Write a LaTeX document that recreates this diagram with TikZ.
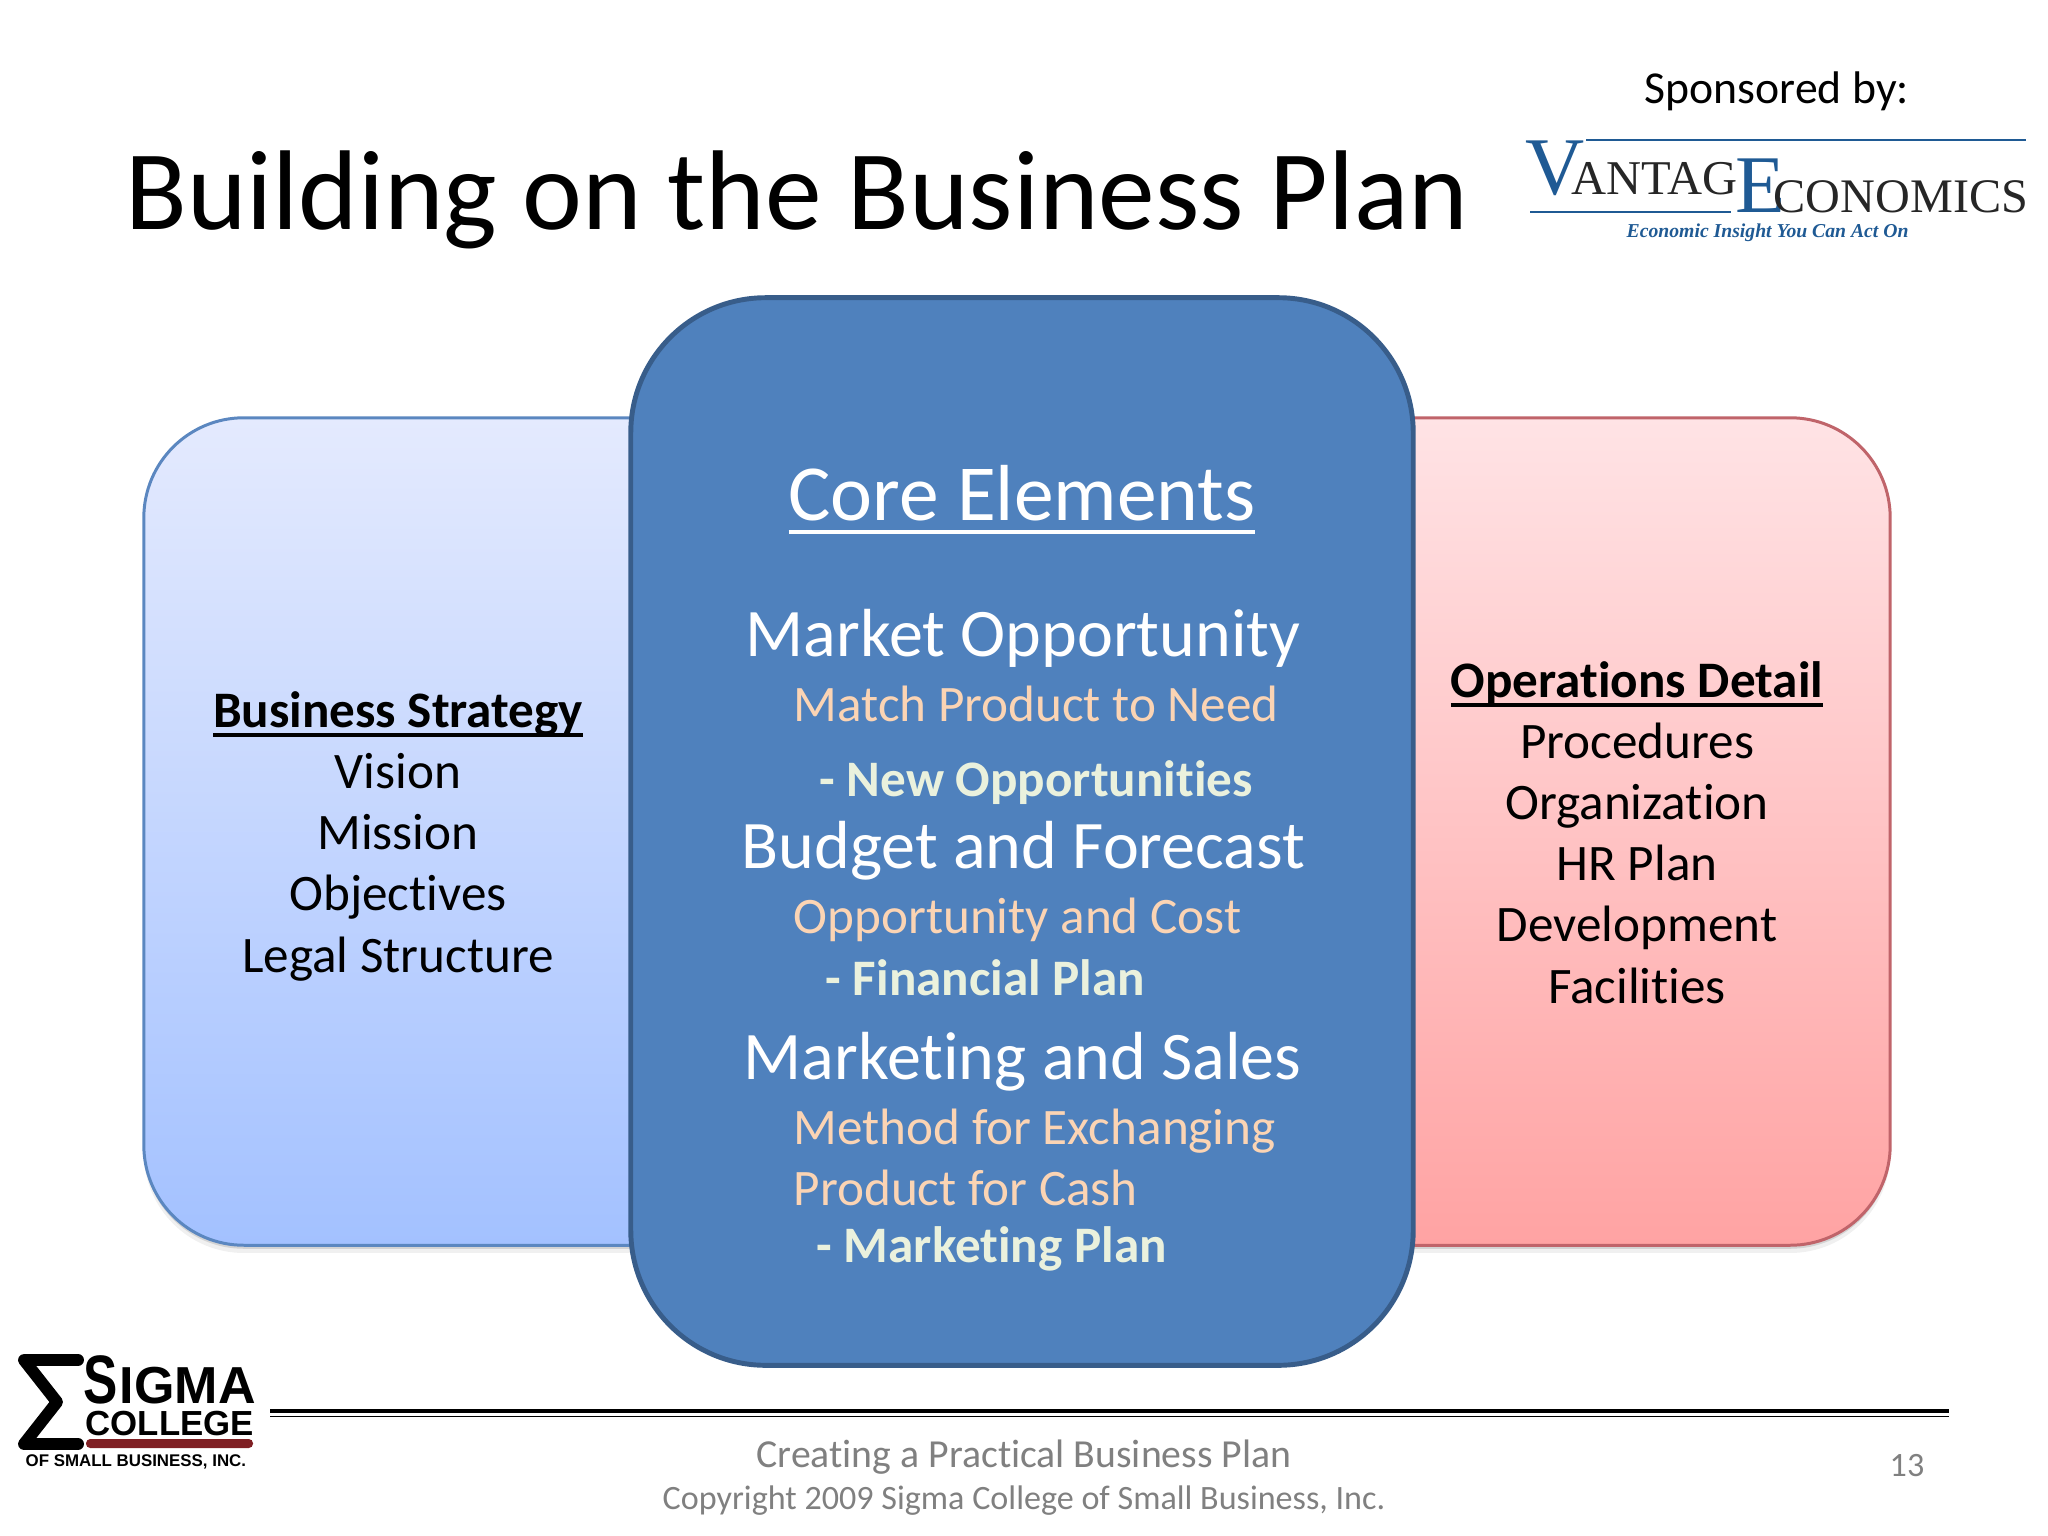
\documentclass[tikz,border=0pt]{standalone}
\usepackage{fontspec}
\usepackage{xcolor}
\setmainfont{Carlito}[Ligatures=NoCommon]
\newfontfamily\logosans{Liberation Sans}
\newfontfamily\logoserif{Liberation Serif}
\usetikzlibrary{shadows}
\definecolor{coreblue}{HTML}{4F81BD}
\definecolor{coreedge}{HTML}{385D8A}
\definecolor{peach}{HTML}{FBD4B4}
\definecolor{palegreen}{HTML}{EAF1DD}
\definecolor{vantageblue}{HTML}{1F5A94}
\definecolor{sigmared}{HTML}{7F1F23}
\definecolor{stratop}{HTML}{E4EAFE}
\definecolor{stratbot}{HTML}{A3C1FF}
\definecolor{stratedge}{HTML}{5B87C0}
\definecolor{opstop}{HTML}{FFE3E5}
\definecolor{opsbot}{HTML}{FFA3A3}
\definecolor{opsedge}{HTML}{C0646A}
\newcommand{\fs}[1]{\fontsize{#1}{#1}\selectfont}
\newcommand{\headrule}[3]{\setbox0\hbox{#3}\rlap{\rule[#1]{\wd0}{#2}}\box0}

\begin{document}
\begin{tikzpicture}[x=0.01cm, y=-0.01cm,
        sidebox/.style={rectangle, rounded corners=1.0cm, inner sep=0pt, line width=0.85pt,
            drop shadow={shadow xshift=0pt, shadow yshift=-2.2pt, opacity=0.12},
            drop shadow={shadow xshift=0pt, shadow yshift=-1pt, opacity=0.25}},
        sidetext/.style={align=center, inner sep=0pt, anchor=base, font=\fontsize{14.55}{17.36}\selectfont},
        head/.style={anchor=base west, inner sep=0pt, text=white, font=\fs{19.35}},
        sub/.style={anchor=base west, inner sep=0pt, text=peach, font=\fs{14.55}},
        plan/.style={anchor=base west, inner sep=0pt, text=palegreen, font=\fs{14.55}\bfseries},
        foot/.style={anchor=base, inner sep=0pt, text=black!50}]
        \useasboundingbox (0,0) rectangle (2048,1536);

        % Title
        \node [anchor=base west, inner sep=0pt, font=\fs{32.25}] (title) at (125,229) {Building on the Business Plan};
        \node [anchor=base west, inner sep=0pt, font=\fs{13}] (sponsor) at (1644,103) {Sponsored by:};

        % Sponsor logo
        \draw [vantageblue, line width=0.8pt] (1586,140) -- (2026,140);
        \draw [vantageblue, line width=0.8pt] (1530,212) -- (1731,212);
        \node [anchor=base west, inner sep=0pt, text=vantageblue, font=\logoserif\fs{23.3}] (logov) at (1525,194) {V};
        \node [anchor=base west, inner sep=0pt, text=black!85, font=\logoserif\fs{13.8}] (logoa) at (1571,194) {ANTAG};
        \node [anchor=base west, inner sep=0pt, text=vantageblue, font=\logoserif\fs{23.3}] (logoe) at (1735,212) {E};
        \node [anchor=base west, inner sep=0pt, text=black!85, font=\logoserif\fs{13.7}] (logoc) at (1773,212) {CONOMICS};
        \node [anchor=base west, inner sep=0pt, text=vantageblue, font=\logoserif\itshape\bfseries\fs{5.6}] (logot) at (1626,237) {Economic Insight You Can Act On};

        % Side boxes
        \node [sidebox, draw=stratedge, top color=stratop, bottom color=stratbot,
            minimum width=6.56cm, minimum height=8.27cm] (strategy) at (472,831.5) {};
        \node [sidebox, draw=opsedge, top color=opstop, bottom color=opsbot,
            minimum width=6.90cm, minimum height=8.27cm] (operations) at (1545,831.5) {};
        \node [sidetext] (strategytext) at (398,972) {\headrule{-2.7pt}{1.2pt}{\textbf{Business Strategy}}\\Vision\\Mission\\Objectives\\Legal Structure};
        \node [sidetext] (operationstext) at (1637,1003) {\headrule{-2.7pt}{1.2pt}{\textbf{Operations Detail}}\\Procedures\\Organization\\HR Plan\\Development\\Facilities};

        % Center box
        \node [rectangle, rounded corners=1.35cm, draw=coreedge, fill=coreblue, line width=1.4pt, inner sep=0pt,
            minimum width=7.82cm, minimum height=10.67cm] (core) at (1022,831.5) {};
        \node [anchor=base, inner sep=0pt, text=white, font=\fs{22.6}] (coretitle) at (1022,520) {\headrule{-4pt}{1.3pt}{Core Elements}};

        \node [head] (market) at (745,656) {Market Opportunity};
        \node [sub] (match) at (793,721) {Match Product to Need};
        \node [plan] (newopp) at (819,796) {- New Opportunities};

        \node [head] (budget) at (741,868) {Budget and Forecast};
        \node [sub] (oppcost) at (793,933) {Opportunity and Cost};
        \node [plan] (financial) at (825,995) {- Financial Plan};

        \node [head] (marketing) at (743,1079) {Marketing and Sales};
        \node [sub] (method) at (793,1144) {Method for Exchanging};
        \node [sub] (product) at (793,1205) {Product for Cash};
        \node [plan] (marketplan) at (816,1262) {- Marketing Plan};

        % College logo
        \draw [line width=3.4pt, line cap=round, line join=round] (78,1360) -- (24,1360) -- (57,1402) -- (24,1444) -- (78,1444);
        \fill [sigmared, rounded corners=1.2pt] (86,1439) rectangle (253,1448);
        \node [anchor=base west, inner sep=0pt, font=\logosans\bfseries\fs{19.5}] (logos) at (83,1403) {\scalebox{0.75}[1]{S}};
        \node [anchor=base west, inner sep=0pt, font=\logosans\bfseries\fs{14.8}] (logoi) at (119,1403) {IGMA};
        \node [anchor=base west, inner sep=0pt, font=\logosans\bfseries\fs{9.9}] (logocol) at (85,1435) {COLLEGE};
        \node [anchor=base west, inner sep=0pt, font=\logosans\bfseries\fs{4.8}] (logoof) at (25,1466) {OF SMALL BUSINESS, INC.};

        % Footer
        \coordinate (rulel) at (270,1411);
        \coordinate (ruler) at (1949,1411);
        \draw [line width=0.95pt] (rulel) -- (ruler);
        \draw [line width=0.4pt] ([yshift=-1.5pt]rulel) -- ([yshift=-1.5pt]ruler);
        \node [foot, font=\fs{11.3}] (course) at (1024,1467) {Creating a Practical Business Plan};
        \node [foot, font=\fs{9.7}] (copyright) at (1024,1509) {Copyright 2009 Sigma College of Small Business, Inc.};
        \node [foot, font=\fs{9.7}] (pagenum) at (1907,1476) {13};
    \end{tikzpicture}
\end{document}
